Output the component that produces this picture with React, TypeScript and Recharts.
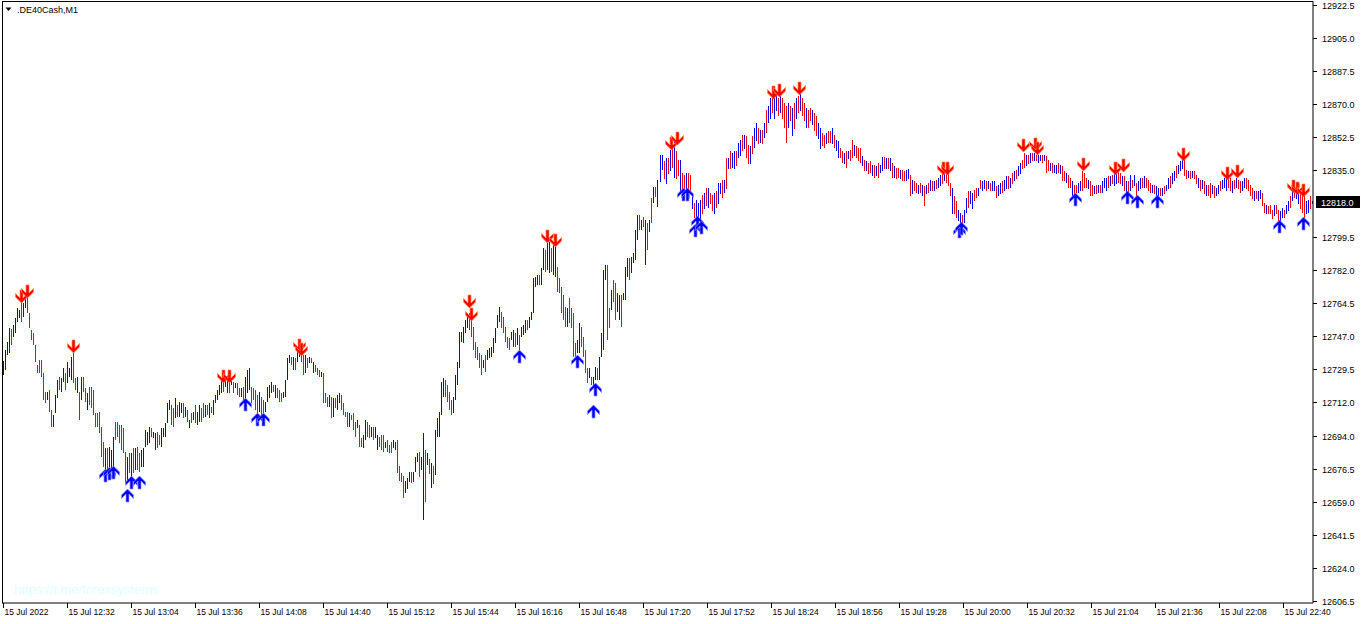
import { ComposedChart, Bar, Line, XAxis, YAxis } from 'recharts'

// M1 bars, 15 Jul 2022 12:00 .. 22:54, one entry per minute
const highs = [
  12733.7, 12739.5, 12743.8, 12751.2, 12750.7, 12752.8, 12756.5, 12761.8, 12760.8, 12766.1,
  12764.5, 12767.2, 12769.8, 12759.2, 12750.1, 12748.5, 12742.2, 12731.5, 12734.2, 12734.2,
  12727.3, 12717.2, 12717.2, 12718.2, 12707.6, 12704.9, 12715.6, 12723.5, 12725.1, 12724.6,
  12729.9, 12727.3, 12733.1, 12729.9, 12735.8, 12737.9, 12724.6, 12725.1, 12717.2, 12725.1,
  12725.1, 12719.3, 12716.6, 12719.8, 12719.8, 12718.2, 12706.0, 12706.0, 12706.5, 12698.5,
  12690.6, 12687.4, 12687.4, 12687.9, 12686.3, 12693.2, 12701.2, 12701.2, 12699.6, 12699.6,
  12698.0, 12685.2, 12682.6, 12684.7, 12684.7, 12687.4, 12687.4, 12687.9, 12684.7, 12686.3,
  12687.4, 12696.9, 12695.9, 12698.5, 12698.0, 12695.9, 12695.3, 12695.9, 12694.3, 12698.0,
  12698.0, 12700.7, 12711.3, 12712.9, 12710.2, 12708.6, 12714.0, 12710.2, 12711.8, 12711.3,
  12711.3, 12709.2, 12707.6, 12702.3, 12706.0, 12706.5, 12710.2, 12706.5, 12710.2, 12708.6,
  12711.3, 12710.2, 12710.2, 12711.3, 12709.2, 12712.9, 12715.6, 12718.2, 12720.9, 12724.6,
  12723.5, 12723.5, 12724.6, 12722.5, 12724.6, 12722.5, 12721.9, 12721.9, 12719.3, 12719.3,
  12719.8, 12725.1, 12728.9, 12729.9, 12719.8, 12719.3, 12718.2, 12715.6, 12717.2, 12714.5,
  12712.9, 12711.8, 12719.8, 12720.9, 12722.5, 12720.9, 12720.9, 12719.3, 12718.2, 12716.6,
  12717.2, 12723.5, 12735.2, 12736.8, 12735.8, 12735.8, 12735.2, 12741.1, 12742.2, 12741.1,
  12736.8, 12736.8, 12735.2, 12735.8, 12735.2, 12733.1, 12731.5, 12729.9, 12728.9, 12727.8,
  12727.3, 12716.6, 12714.5, 12715.6, 12714.5, 12714.0, 12714.0, 12715.6, 12716.6, 12715.6,
  12711.3, 12706.5, 12706.5, 12706.0, 12704.9, 12706.0, 12701.2, 12702.3, 12699.6, 12692.7,
  12694.3, 12702.3, 12701.2, 12699.6, 12698.5, 12698.5, 12698.5, 12694.3, 12693.2, 12694.3,
  12694.3, 12690.6, 12691.6, 12689.0, 12690.6, 12691.6, 12690.6, 12691.6, 12678.3, 12674.1,
  12673.0, 12670.3, 12671.9, 12674.6, 12674.6, 12674.6, 12682.6, 12684.7, 12685.2, 12682.6,
  12695.3, 12686.3, 12684.7, 12682.0, 12679.4, 12678.3, 12696.9, 12703.3, 12706.5, 12722.5,
  12724.6, 12723.5, 12720.9, 12717.2, 12712.9, 12714.5, 12726.2, 12733.1, 12749.1, 12749.1,
  12751.7, 12755.5, 12759.2, 12759.2, 12755.5, 12751.7, 12743.8, 12741.1, 12737.9, 12736.8,
  12734.2, 12736.8, 12739.5, 12740.6, 12741.1, 12745.9, 12751.2, 12758.1, 12762.4, 12759.7,
  12757.1, 12751.7, 12746.4, 12745.9, 12749.1, 12750.1, 12748.5, 12751.2, 12747.5, 12751.7,
  12752.8, 12755.5, 12755.5, 12757.1, 12759.7, 12777.8, 12778.3, 12779.4, 12779.4, 12783.1,
  12793.8, 12792.7, 12796.4, 12797.0, 12793.8, 12795.4, 12794.3, 12783.7, 12777.8, 12773.0,
  12768.8, 12762.4, 12761.8, 12767.2, 12761.8, 12759.2, 12743.2, 12744.8, 12753.9, 12751.7,
  12746.4, 12739.5, 12729.9, 12729.9, 12725.1, 12725.1, 12730.5, 12729.9, 12735.8, 12748.5,
  12782.1, 12784.7, 12784.7, 12761.8, 12771.4, 12776.7, 12775.1, 12769.8, 12768.8, 12768.8,
  12769.8, 12783.7, 12788.4, 12788.4, 12789.0, 12791.1, 12803.3, 12811.3, 12811.3, 12808.7,
  12810.3, 12808.7, 12807.1, 12808.7, 12820.4, 12826.2, 12826.2, 12829.9, 12843.2, 12843.2,
  12839.8, 12841.4, 12841.4, 12845.6, 12848.3, 12850.4, 12845.1, 12840.3, 12840.3, 12833.4,
  12832.3, 12833.4, 12833.4, 12832.3, 12821.7, 12817.4, 12819.0, 12817.4, 12819.0, 12821.7,
  12822.8, 12825.4, 12825.4, 12822.8, 12821.7, 12822.8, 12823.8, 12828.1, 12828.1, 12829.7,
  12829.7, 12841.4, 12841.4, 12845.1, 12844.0, 12845.1, 12845.1, 12849.4, 12851.0, 12853.6,
  12853.6, 12853.1, 12848.3, 12847.8, 12853.1, 12857.3, 12860.0, 12857.3, 12856.3, 12856.3,
  12860.0, 12866.9, 12869.0, 12873.3, 12874.4, 12873.3, 12875.4, 12873.3, 12874.4, 12873.3,
  12870.6, 12869.0, 12870.6, 12869.0, 12868.0, 12870.6, 12873.3, 12874.4, 12875.4, 12873.3,
  12870.6, 12868.0, 12866.9, 12868.0, 12866.9, 12865.3, 12863.7, 12860.0, 12857.3, 12854.7,
  12853.6, 12854.7, 12855.7, 12855.7, 12857.3, 12853.6, 12851.0, 12850.4, 12846.7, 12845.1,
  12844.0, 12845.1, 12845.1, 12845.6, 12851.0, 12848.3, 12847.8, 12846.7, 12846.7, 12842.4,
  12840.3, 12839.8, 12838.7, 12839.8, 12837.7, 12837.7, 12837.1, 12838.7, 12837.7, 12841.9,
  12841.9, 12841.4, 12841.4, 12841.4, 12838.7, 12837.1, 12836.1, 12836.1, 12835.0, 12835.0,
  12834.5, 12835.0, 12835.5, 12832.3, 12829.7, 12829.1, 12828.1, 12827.0, 12828.1, 12827.0,
  12826.5, 12827.0, 12828.1, 12829.7, 12829.1, 12829.1, 12829.7, 12830.7, 12832.3, 12834.5,
  12833.4, 12834.5, 12833.4, 12828.1, 12825.4, 12821.2, 12818.5, 12813.7, 12812.1, 12811.1,
  12813.7, 12820.1, 12823.8, 12823.8, 12822.8, 12824.4, 12825.4, 12825.4, 12829.7, 12829.1,
  12829.7, 12829.1, 12829.1, 12828.1, 12829.1, 12829.1, 12826.5, 12827.0, 12828.1, 12829.1,
  12829.7, 12831.8, 12831.8, 12830.7, 12833.4, 12834.5, 12835.0, 12837.1, 12838.7, 12840.3,
  12844.0, 12843.0, 12843.0, 12844.0, 12844.0, 12844.0, 12843.0, 12843.0, 12843.0, 12843.0,
  12843.0, 12842.4, 12840.3, 12838.7, 12838.7, 12837.7, 12837.7, 12838.7, 12837.7, 12837.1,
  12834.5, 12833.4, 12832.3, 12830.7, 12829.1, 12827.0, 12827.0, 12828.1, 12829.1, 12834.5,
  12833.4, 12830.7, 12829.7, 12829.1, 12827.0, 12826.5, 12827.0, 12827.0, 12827.0, 12829.1,
  12830.7, 12830.7, 12831.8, 12831.8, 12832.3, 12833.4, 12834.5, 12834.5, 12833.4, 12831.8,
  12831.8, 12829.1, 12829.1, 12832.3, 12829.7, 12832.3, 12828.1, 12829.1, 12830.7, 12830.7,
  12831.8, 12830.7, 12829.7, 12828.1, 12827.0, 12827.0, 12826.5, 12825.4, 12825.4, 12825.4,
  12826.5, 12827.0, 12830.7, 12831.8, 12833.4, 12834.5, 12837.1, 12837.7, 12839.8, 12841.4,
  12840.3, 12835.0, 12834.5, 12834.5, 12834.5, 12834.5, 12832.3, 12830.7, 12829.7, 12829.7,
  12829.1, 12827.0, 12827.0, 12828.1, 12827.0, 12826.5, 12825.4, 12827.0, 12829.1, 12829.7,
  12830.7, 12831.8, 12832.3, 12830.7, 12829.1, 12829.7, 12830.7, 12829.7, 12829.1, 12829.1,
  12830.7, 12830.7, 12829.7, 12827.0, 12825.4, 12823.8, 12823.8, 12823.8, 12824.4, 12822.8,
  12817.4, 12816.4, 12815.8, 12816.4, 12813.7, 12816.4, 12816.4, 12813.7, 12813.2, 12814.8,
  12813.7, 12816.4, 12818.5, 12821.2, 12824.4, 12828.1, 12826.5, 12825.4, 12822.8, 12821.7,
  12821.2, 12818.5, 12819.0, 12821.2, 12818.5,
]

const lows = [
  12726.2, 12728.9, 12736.8, 12737.9, 12742.2, 12746.4, 12748.6, 12754.4, 12756.5, 12754.4,
  12757.1, 12761.8, 12759.2, 12751.2, 12744.8, 12742.2, 12733.1, 12727.3, 12727.3, 12725.1,
  12712.9, 12711.3, 12712.9, 12706.5, 12698.5, 12698.5, 12706.0, 12714.0, 12718.2, 12717.2,
  12722.5, 12718.2, 12721.9, 12725.1, 12723.5, 12721.9, 12718.2, 12716.6, 12702.3, 12712.9,
  12717.2, 12711.8, 12707.6, 12710.2, 12708.6, 12704.9, 12698.5, 12698.5, 12695.3, 12682.6,
  12677.3, 12674.1, 12675.7, 12677.3, 12675.7, 12676.7, 12691.6, 12693.2, 12690.0, 12686.3,
  12684.7, 12668.7, 12670.3, 12674.1, 12671.9, 12674.1, 12675.7, 12675.7, 12674.6, 12677.3,
  12677.3, 12687.9, 12689.0, 12690.0, 12693.2, 12692.7, 12686.3, 12687.4, 12689.0, 12687.9,
  12693.2, 12693.2, 12700.7, 12707.6, 12699.6, 12698.5, 12703.3, 12703.9, 12703.9, 12706.0,
  12703.3, 12703.9, 12701.2, 12698.0, 12700.7, 12702.3, 12700.7, 12699.6, 12701.2, 12701.2,
  12703.3, 12703.9, 12704.9, 12703.3, 12706.0, 12704.9, 12711.3, 12712.9, 12715.6, 12716.6,
  12717.2, 12719.8, 12716.6, 12716.6, 12720.9, 12716.6, 12719.3, 12715.6, 12714.5, 12714.5,
  12712.9, 12714.0, 12716.6, 12718.2, 12711.3, 12712.9, 12707.6, 12703.3, 12706.5, 12702.3,
  12706.0, 12706.5, 12711.8, 12714.0, 12716.6, 12717.2, 12714.0, 12714.0, 12711.8, 12711.8,
  12714.0, 12714.5, 12723.5, 12732.6, 12731.5, 12728.9, 12728.9, 12733.1, 12735.8, 12733.1,
  12726.2, 12727.3, 12729.9, 12732.6, 12732.6, 12727.3, 12727.8, 12726.2, 12725.1, 12725.1,
  12711.3, 12711.3, 12709.2, 12709.2, 12703.3, 12703.9, 12708.6, 12707.6, 12711.3, 12707.6,
  12704.9, 12703.9, 12698.5, 12698.5, 12702.3, 12696.9, 12693.2, 12698.0, 12687.9, 12687.9,
  12687.4, 12691.6, 12693.2, 12692.7, 12693.2, 12691.6, 12692.7, 12686.3, 12687.9, 12686.3,
  12685.2, 12687.4, 12685.2, 12684.7, 12684.7, 12687.4, 12686.3, 12674.1, 12670.3, 12669.3,
  12661.3, 12664.0, 12666.1, 12669.3, 12668.7, 12669.3, 12674.6, 12679.9, 12671.9, 12675.7,
  12649.1, 12658.6, 12678.3, 12674.1, 12666.1, 12668.7, 12673.0, 12693.2, 12693.2, 12704.9,
  12714.5, 12714.5, 12711.8, 12707.6, 12704.9, 12706.0, 12712.9, 12720.9, 12729.9, 12743.8,
  12743.2, 12748.5, 12751.2, 12750.1, 12746.4, 12739.5, 12735.2, 12734.2, 12729.9, 12726.2,
  12729.9, 12727.8, 12734.2, 12735.2, 12735.8, 12737.9, 12743.2, 12751.2, 12754.4, 12751.2,
  12748.5, 12743.8, 12740.6, 12739.5, 12744.8, 12741.1, 12741.1, 12742.2, 12739.5, 12746.4,
  12747.5, 12748.5, 12750.1, 12751.2, 12755.5, 12759.2, 12773.0, 12774.1, 12774.1, 12774.1,
  12782.1, 12781.0, 12782.1, 12780.5, 12781.0, 12779.4, 12778.3, 12770.4, 12769.8, 12759.2,
  12755.5, 12751.7, 12751.7, 12753.9, 12751.2, 12735.8, 12735.8, 12737.9, 12737.9, 12741.1,
  12735.8, 12727.3, 12721.9, 12724.6, 12720.9, 12719.8, 12723.5, 12723.5, 12723.5, 12735.8,
  12739.5, 12776.7, 12744.8, 12751.2, 12760.8, 12765.0, 12755.5, 12759.7, 12755.5, 12751.7,
  12766.1, 12766.1, 12778.3, 12776.7, 12780.5, 12785.8, 12787.4, 12798.0, 12803.3, 12803.3,
  12804.9, 12784.7, 12792.7, 12802.3, 12807.1, 12817.7, 12820.9, 12815.6, 12828.9, 12835.3,
  12830.2, 12827.5, 12832.9, 12834.5, 12836.1, 12830.7, 12830.2, 12831.8, 12822.2, 12822.2,
  12822.2, 12823.8, 12819.6, 12822.8, 12814.2, 12809.5, 12807.9, 12808.9, 12807.9, 12811.6,
  12814.2, 12815.8, 12814.8, 12816.9, 12813.2, 12811.6, 12814.8, 12816.9, 12822.2, 12820.1,
  12822.8, 12824.9, 12835.5, 12835.5, 12836.1, 12835.5, 12837.1, 12841.4, 12842.4, 12845.1,
  12846.2, 12841.4, 12838.2, 12838.2, 12843.5, 12846.7, 12850.4, 12848.8, 12849.4, 12848.8,
  12852.0, 12854.7, 12860.0, 12862.1, 12865.3, 12862.1, 12866.4, 12863.7, 12865.3, 12862.1,
  12857.3, 12849.4, 12857.3, 12861.1, 12853.1, 12856.8, 12862.1, 12865.3, 12866.4, 12863.7,
  12861.1, 12857.3, 12857.3, 12861.1, 12858.9, 12855.7, 12853.1, 12851.5, 12846.2, 12847.8,
  12846.7, 12848.8, 12849.4, 12849.4, 12848.8, 12846.7, 12845.1, 12841.4, 12841.4, 12838.7,
  12838.2, 12836.1, 12840.8, 12839.8, 12841.4, 12842.4, 12841.4, 12839.8, 12838.7, 12837.1,
  12834.5, 12834.5, 12832.9, 12833.4, 12831.8, 12830.7, 12831.8, 12830.7, 12833.4, 12834.5,
  12835.5, 12835.5, 12835.5, 12834.5, 12830.7, 12830.7, 12830.2, 12830.7, 12830.2, 12829.1,
  12829.1, 12829.1, 12830.2, 12821.2, 12822.2, 12823.8, 12822.8, 12822.2, 12822.8, 12821.2,
  12815.8, 12822.2, 12822.8, 12823.8, 12823.8, 12823.8, 12824.9, 12825.4, 12826.5, 12827.5,
  12829.1, 12828.1, 12826.5, 12821.2, 12811.6, 12811.6, 12809.5, 12807.9, 12806.3, 12805.2,
  12806.8, 12812.1, 12814.8, 12816.9, 12814.2, 12818.5, 12820.1, 12821.2, 12824.9, 12823.8,
  12824.9, 12823.8, 12824.9, 12823.8, 12823.8, 12823.8, 12820.1, 12821.2, 12822.2, 12822.8,
  12823.8, 12824.9, 12824.9, 12825.4, 12827.5, 12829.1, 12830.2, 12831.8, 12832.9, 12835.5,
  12836.1, 12837.1, 12838.2, 12838.7, 12839.8, 12839.8, 12839.8, 12838.7, 12839.8, 12838.7,
  12839.8, 12833.4, 12834.5, 12834.5, 12833.4, 12833.4, 12832.9, 12833.4, 12832.9, 12829.1,
  12829.1, 12828.1, 12825.4, 12825.4, 12821.2, 12821.2, 12822.8, 12822.8, 12823.8, 12823.8,
  12825.4, 12825.4, 12824.9, 12821.2, 12821.2, 12822.2, 12822.2, 12822.8, 12822.8, 12822.8,
  12825.4, 12823.8, 12825.4, 12826.5, 12827.5, 12826.5, 12827.5, 12828.1, 12827.5, 12826.5,
  12823.8, 12822.8, 12821.2, 12823.8, 12825.4, 12826.5, 12821.2, 12823.8, 12824.9, 12825.4,
  12825.4, 12825.4, 12823.8, 12822.8, 12822.8, 12822.2, 12821.2, 12821.2, 12821.2, 12821.2,
  12822.2, 12823.8, 12824.9, 12825.4, 12827.5, 12829.1, 12830.7, 12832.9, 12834.5, 12835.5,
  12831.8, 12830.2, 12830.7, 12830.2, 12830.7, 12830.2, 12827.5, 12825.4, 12823.8, 12824.9,
  12822.2, 12821.2, 12821.2, 12820.1, 12822.2, 12820.1, 12821.2, 12822.2, 12823.8, 12824.9,
  12825.4, 12823.8, 12825.4, 12823.8, 12822.8, 12824.9, 12825.4, 12824.9, 12822.8, 12823.8,
  12825.4, 12824.9, 12823.8, 12821.2, 12819.6, 12818.5, 12819.6, 12818.5, 12819.6, 12815.8,
  12812.1, 12811.6, 12811.6, 12811.6, 12808.9, 12810.5, 12811.6, 12807.9, 12807.9, 12809.5,
  12809.5, 12811.6, 12813.2, 12814.8, 12818.5, 12820.1, 12819.6, 12816.9, 12814.2, 12812.1,
  12809.5, 12811.6, 12812.1, 12814.2, 12817.0,
]

// bar colour per minute, ten bars per entry: u = bull (blue), d = bear (red)
const barDirs = [
  'uuuuduuuud', 'uudddddddd', 'ddudduuudu', 'uduuuddudu', 'dduddddddd',
  'duduuudddd', 'ddudududdu', 'uuuuduuddu', 'uuuudduduu', 'dudududuud',
  'dududuuuuu', 'duudududdu', 'duuuddddud', 'duuuududdd', 'uuuududuud',
  'dudududddu', 'dddududuud', 'dddudddudd', 'uudduduudd', 'duddduuddd',
  'duuuduuudu', 'udududuuuu', 'udddduuuuu', 'uuuddddddd', 'uduuuuuuud',
  'dddduududu', 'uuduuuuudu', 'uduuduuddd', 'ddudddduud', 'ddduduuduu',
  'uuddudduud', 'uuuduuuudu', 'dudududuuu', 'dudududdud', 'dudduduuud',
  'ududduduud', 'ududuuduud', 'udduduudud', 'uduuduudud', 'ddudududud',
  'duddudduud', 'dudduduudd', 'ududdudddu', 'duddududuu', 'dudududdud',
  'duududdudu', 'dudududuud', 'udddudduud', 'uuduuddudu', 'ududuuduud',
  'uudududuud', 'dudududuud', 'udduduudud', 'duddudduud', 'dduddududu',
  'uududuuddu', 'dudududuud', 'uddduduudu', 'duuduuduuu', 'ddududdudu',
  'dudduduudu', 'uuddududdu', 'udddduduud', 'dudddudduu', 'duududuudd',
  'duudu',
].join('')

// signal arrows: bar index + price of the arrow tip
const sellArrowIdx = [9, 12, 35, 110, 113, 148, 149, 233, 234, 272, 276, 334, 337, 385, 388, 398, 470, 472, 510, 516, 517, 540, 556, 560, 590, 612, 617, 645, 647, 650]
const sellArrowTip = [12764.5, 12767.2, 12737.9, 12721.9, 12721.9, 12738.4, 12736.3, 12761.8, 12754.9, 12796.4, 12794.3, 12845.4, 12848.0, 12872.5, 12873.6, 12874.6, 12832.6, 12832.6, 12844.3, 12845.0, 12842.7, 12834.2, 12832.6, 12833.7, 12839.5, 12829.9, 12830.5, 12823.0, 12822.0, 12820.9]
const buyArrowIdx = [51, 53, 55, 62, 64, 68, 121, 127, 130, 258, 287, 295, 296, 340, 342, 346, 347, 349, 478, 479, 536, 562, 567, 577, 638, 650]
const buyArrowTip = [12676.2, 12677.3, 12678.3, 12666.1, 12673.0, 12673.0, 12714.0, 12706.0, 12706.0, 12739.5, 12736.8, 12710.2, 12721.9, 12825.7, 12825.7, 12806.5, 12810.8, 12808.1, 12806.0, 12807.6, 12823.0, 12823.6, 12822.0, 12822.0, 12808.7, 12810.3]

const timeTickIdx = [0, 32, 64, 96, 128, 160, 192, 224, 256, 288, 320, 352, 384, 416, 448, 480, 512, 544, 576, 608, 640]
const timeTickLabels = [
  '15 Jul 2022', '15 Jul 12:32', '15 Jul 13:04', '15 Jul 13:36', '15 Jul 14:08', '15 Jul 14:40',
  '15 Jul 15:12', '15 Jul 15:44', '15 Jul 16:16', '15 Jul 16:48', '15 Jul 17:20', '15 Jul 17:52',
  '15 Jul 18:24', '15 Jul 18:56', '15 Jul 19:28', '15 Jul 20:00', '15 Jul 20:32', '15 Jul 21:04',
  '15 Jul 21:36', '15 Jul 22:08', '15 Jul 22:40',
]
const priceTicks = [
  12922.5, 12905.0, 12887.5, 12870.0, 12852.5, 12835.0, 12818.0, 12799.5, 12782.0, 12764.5,
  12747.0, 12729.5, 12712.0, 12694.0, 12676.5, 12659.0, 12641.5, 12624.0, 12606.5,
]
const lastPrice = 12818.0

const BLUE = '#0000ff'
const RED = '#ff0000'
const FONT = '"Liberation Sans", Arial, sans-serif'

const data: any[] = highs.map((h, i) => ({
  t: i,
  range: [lows[i], h],
  up: barDirs[i] !== 'd',
  sell: null,
  buy: null,
}))
sellArrowIdx.forEach((idx, k) => { data[idx].sell = sellArrowTip[k] })
buyArrowIdx.forEach((idx, k) => { data[idx].buy = buyArrowTip[k] })

// thin high-low bar, snapped to whole pixels
const HLBar = (props: any) => {
  const { x, y, width, height, payload } = props
  if (x == null || y == null || isNaN(y)) return <g />
  const top = Math.round(Math.min(y, y + height))
  const h = Math.max(1, Math.round(Math.abs(height)))
  return <rect x={Math.floor(x + width / 2)} y={top} width={1} height={h} fill={payload.up ? BLUE : RED} />
}

// thick wingdings-like arrow, tip at 0,0 pointing up
const ARROW = '0,0 6,6 6,9.5 1.5,5 1.5,13 -1.5,13 -1.5,5 -6,9.5 -6,6'

const arrowDot = (kind: 'buy' | 'sell') => (props: any) => {
  const { cx, cy, value, index } = props
  const key = `${kind}-${index}`
  if (value == null || cy == null || isNaN(cy)) return <g key={key} />
  const flip = kind === 'buy' ? 1 : -1
  return (
    <polygon
      key={key}
      points={ARROW}
      transform={`translate(${Math.floor(cx) + 0.5},${Math.round(cy)}) scale(1,${flip})`}
      fill={kind === 'buy' ? BLUE : RED}
      stroke={kind === 'buy' ? '#8c8cff' : '#ff8a3c'}
      strokeWidth={0.7}
    />
  )
}

const TimeTick = (props: any) => {
  const { x, y, payload } = props
  const k = timeTickIdx.indexOf(payload.value)
  if (k < 0) return <g />
  const tx = Math.floor(x) + 0.5
  return (
    <g>
      <line x1={tx} x2={tx} y1={y} y2={y + 5} stroke="#000" />
      <text x={tx + 1} y={y + 12} fontSize={8.5} fontFamily={FONT} fill="#000">
        {timeTickLabels[k]}
      </text>
    </g>
  )
}

const PriceTick = (props: any) => {
  const { x, y, payload } = props
  const v = payload.value
  const ty = Math.round(y) + 0.5
  if (v === lastPrice) {
    return (
      <g>
        <rect x={x + 3} y={ty - 6.5} width={44} height={12} fill="#000" />
        <text x={x + 8} y={ty + 3.5} fontSize={9} fontFamily={FONT} fill="#fff">
          {v.toFixed(1)}
        </text>
      </g>
    )
  }
  return (
    <g>
      <line x1={x} x2={x + 4} y1={ty} y2={ty} stroke="#000" />
      <text x={x + 9} y={ty + 3.5} fontSize={9} fontFamily={FONT} fill="#000">
        {v.toFixed(1)}
      </text>
    </g>
  )
}

export default function App() {
  return (
    <div style={{ position: 'absolute', left: 0, top: 0, width: 1362, height: 624, background: '#fff' }}>
      <ComposedChart width={1362} height={624} data={data} margin={{ top: 1, right: 0, left: 2, bottom: 0 }}>
        <XAxis
          dataKey="t"
          type="category"
          ticks={timeTickIdx}
          interval={0}
          height={21}
          tickSize={0}
          tickMargin={0}
          tickLine={false}
          axisLine={{ stroke: '#000' }}
          tick={<TimeTick />}
        />
        <YAxis
          orientation="right"
          domain={[12605.4, 12924.6]}
          allowDataOverflow
          ticks={priceTicks}
          interval={0}
          width={49}
          tickSize={0}
          tickMargin={0}
          tickLine={false}
          axisLine={{ stroke: '#000' }}
          tick={<PriceTick />}
        />
        <Bar dataKey="range" barSize={1} shape={<HLBar />} isAnimationActive={false} />
        <Line dataKey="sell" stroke="none" dot={arrowDot('sell')} activeDot={false} isAnimationActive={false} />
        <Line dataKey="buy" stroke="none" dot={arrowDot('buy')} activeDot={false} isAnimationActive={false} />
      </ComposedChart>
      {/* chart frame, left and top edges */}
      <div style={{ position: 'absolute', left: 2, top: 1, width: 1311, height: 602, borderLeft: '1px solid #000', borderTop: '1px solid #000', boxSizing: 'border-box', pointerEvents: 'none' }} />
      <svg style={{ position: 'absolute', left: 0, top: 0 }} width={20} height={20}>
        <polygon points="5.5,7.5 11.5,7.5 8.5,11" fill="#000" />
      </svg>
      <div style={{ position: 'absolute', left: 17, top: 4, fontFamily: FONT, fontSize: 9, color: '#000', lineHeight: '12px' }}>
        .DE40Cash,M1
      </div>
      <div style={{ position: 'absolute', left: 14, top: 582, fontFamily: FONT, fontSize: 13, color: '#e0ffff', lineHeight: '16px' }}>
        https://t.me/forexsystems
      </div>
    </div>
  )
}
